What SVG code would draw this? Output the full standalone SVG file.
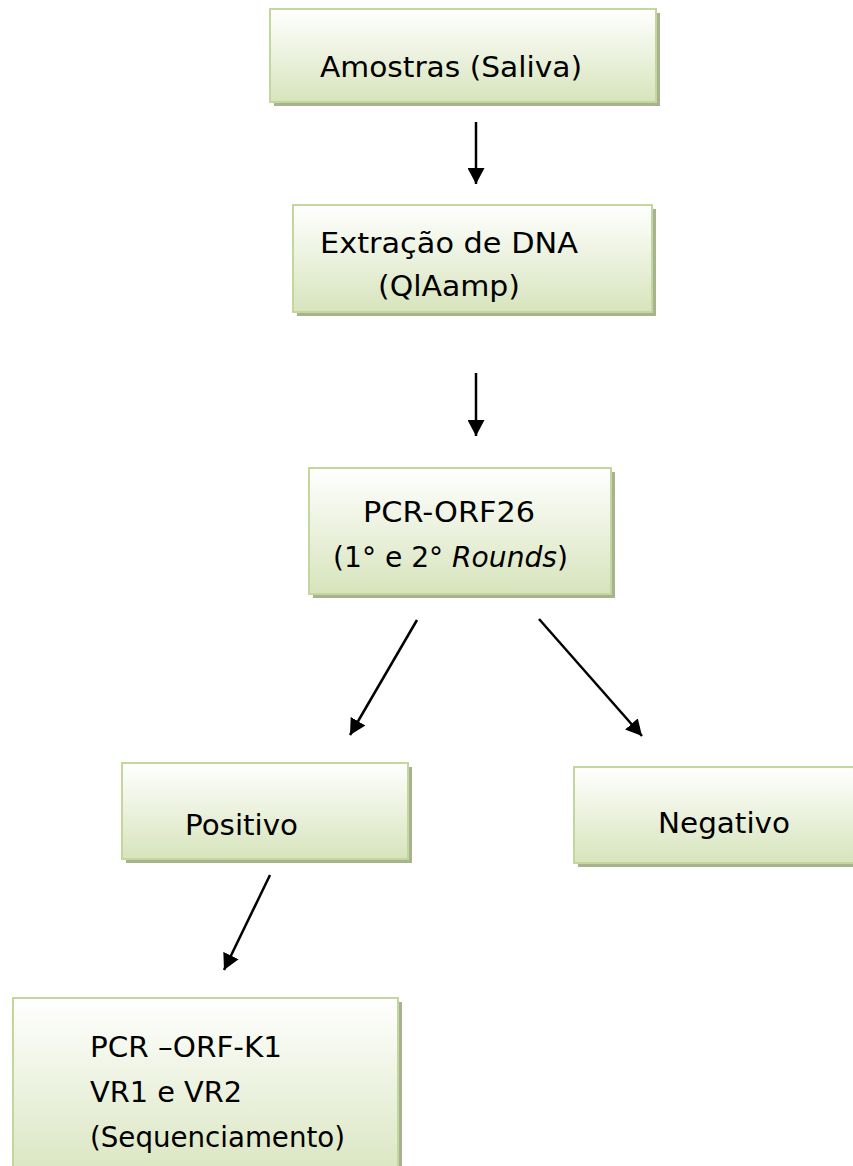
<svg xmlns="http://www.w3.org/2000/svg" width="853" height="1166" viewBox="0 0 853 1166">
<style>
.sh{fill:#a7b38e}
.bx{fill:url(#g);stroke:#c3d69b;stroke-width:2}
.t{font-family:"DejaVu Sans","Liberation Sans",sans-serif;font-size:28px;fill:#000}
.c{stroke:#000;stroke-width:2.5;fill:none;marker-end:url(#ah)}
</style>
<defs>
<linearGradient id="g" x1="0" y1="0" x2="0" y2="1">
<stop offset="0" stop-color="#ffffff"/>
<stop offset="1" stop-color="#d7e4bc"/>
</linearGradient>
<marker id="ah" markerUnits="userSpaceOnUse" markerWidth="17" markerHeight="17" refX="16" refY="8.5" orient="auto" viewBox="0 0 17 17">
<path d="M0,0 L16,8.5 L0,17 z" fill="#000"/>
</marker>
</defs>
<rect width="853" height="1166" fill="#fff"/>
<g id="n1">
<rect class="sh" x="274" y="13" width="386" height="93"/>
<rect class="bx" x="270" y="9" width="386" height="93"/>
<text class="t" x="320" y="77" textLength="262" lengthAdjust="spacingAndGlyphs">Amostras (Saliva)</text>
</g>
<g id="n2">
<rect class="sh" x="297" y="209" width="359" height="107"/>
<rect class="bx" x="293" y="205" width="359" height="107"/>
<text class="t" x="320" y="253" textLength="258" lengthAdjust="spacingAndGlyphs">Extração de DNA</text>
<text class="t" x="378" y="296" textLength="142" lengthAdjust="spacingAndGlyphs">(QlAamp)</text>
</g>
<g id="n3">
<rect class="sh" x="313" y="472" width="302" height="126"/>
<rect class="bx" x="309" y="468" width="302" height="126"/>
<text class="t" x="363" y="522" textLength="172" lengthAdjust="spacingAndGlyphs">PCR-ORF26</text>
<text class="t" x="333" y="567" textLength="235" lengthAdjust="spacingAndGlyphs">(1° e 2° <tspan font-style="italic">Rounds</tspan>)</text>
</g>
<g id="n4">
<rect class="sh" x="126" y="767" width="286" height="96"/>
<rect class="bx" x="122" y="763" width="286" height="96"/>
<text class="t" x="185" y="835" textLength="113" lengthAdjust="spacingAndGlyphs">Positivo</text>
</g>
<g id="n5">
<rect class="sh" x="578" y="771" width="290" height="96"/>
<rect class="bx" x="574" y="767" width="290" height="96"/>
<text class="t" x="658" y="833" textLength="132" lengthAdjust="spacingAndGlyphs">Negativo</text>
</g>
<g id="n6">
<rect class="sh" x="17" y="1002" width="385" height="190"/>
<rect class="bx" x="13" y="998" width="385" height="190"/>
<text class="t" x="90" y="1057" textLength="192" lengthAdjust="spacingAndGlyphs">PCR –ORF-K1</text>
<text class="t" x="90" y="1102" textLength="152" lengthAdjust="spacingAndGlyphs">VR1 e VR2</text>
<text class="t" x="90" y="1147" textLength="255" lengthAdjust="spacingAndGlyphs">(Sequenciamento)</text>
</g>
<g id="connectors">
<line class="c" x1="476" y1="122" x2="476" y2="184"/>
<line class="c" x1="476" y1="373" x2="476" y2="436"/>
<line class="c" x1="417" y1="620" x2="350" y2="735"/>
<line class="c" x1="539" y1="619" x2="642" y2="736"/>
<line class="c" x1="270" y1="875" x2="224" y2="970"/>
</g>
</svg>
